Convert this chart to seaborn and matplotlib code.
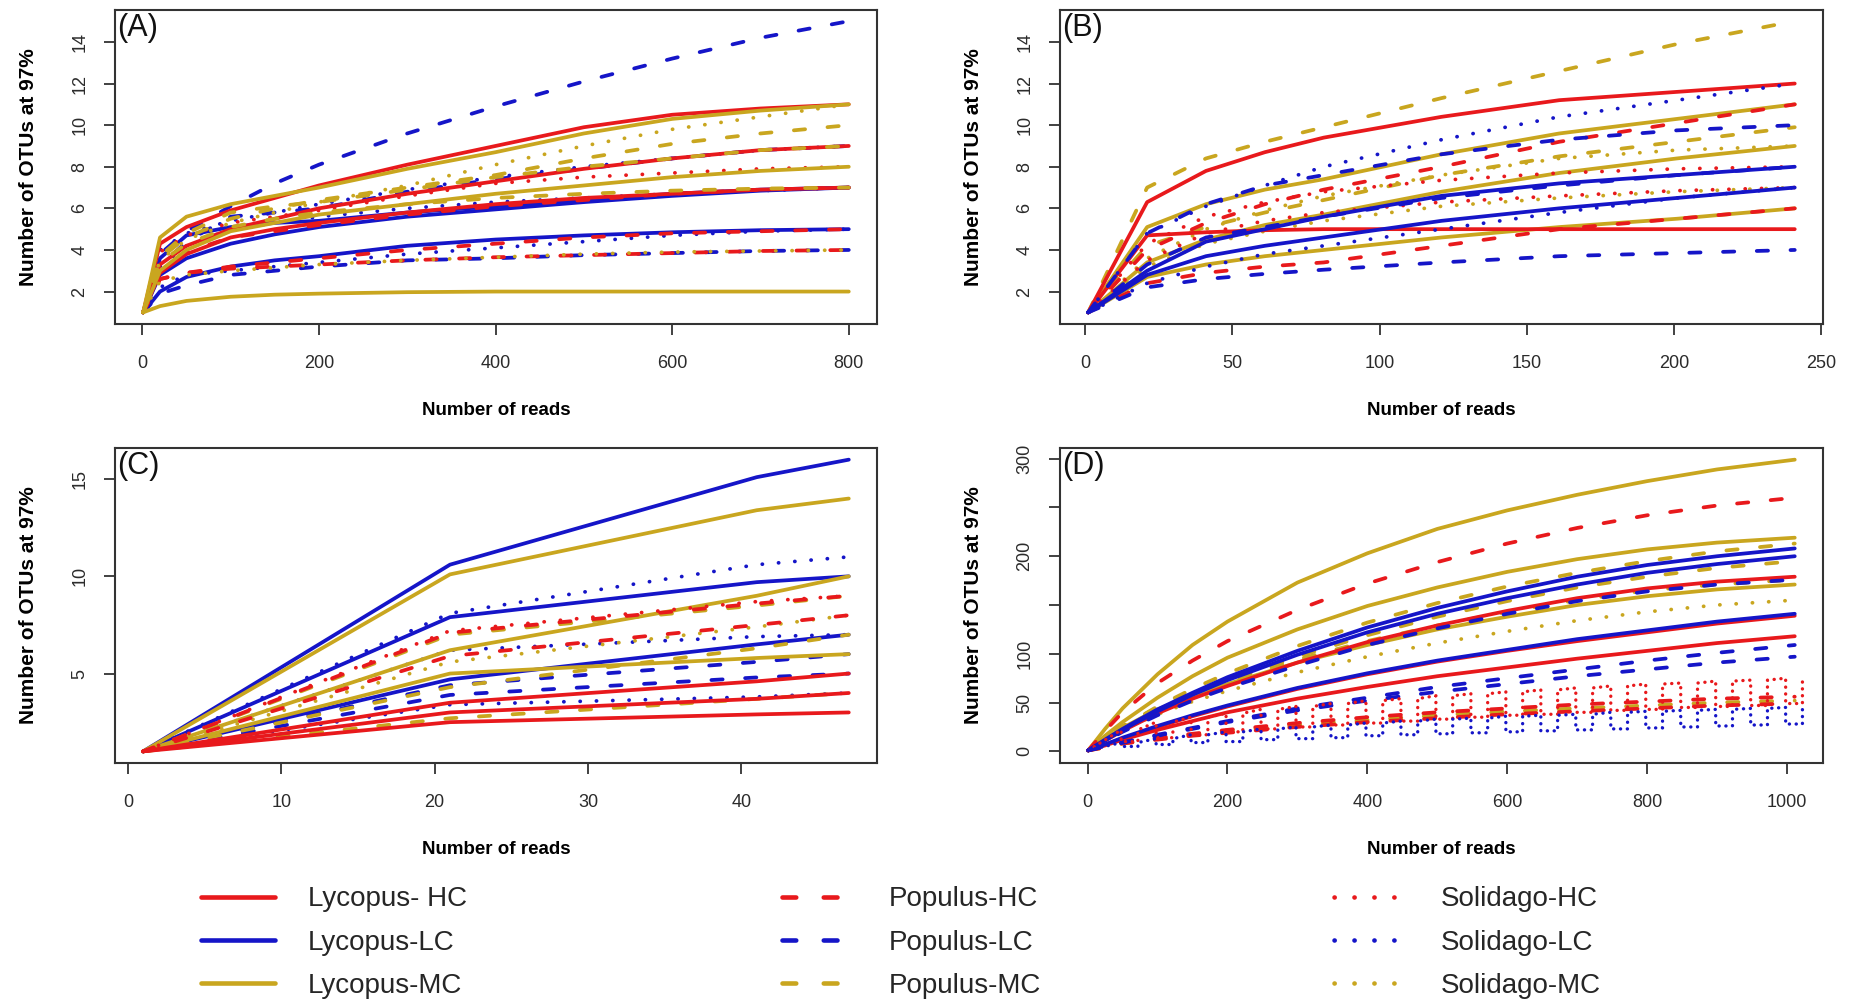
import matplotlib
matplotlib.use("Agg")
import matplotlib.pyplot as plt
from matplotlib.lines import Line2D
import numpy as np
import pandas as pd
import seaborn as sns

# ---------------------------------------------------------------- data
# Panel A: rarefaction curves, sampled at these read depths
A_READS = [1, 20, 50, 100, 150, 200, 300, 400, 500, 600, 700, 800]
A_SAMPLES = [
    "Populus-LC", "Lycopus-HC", "Lycopus-MC", "Solidago-MC", "Populus-MC",
    "Lycopus-HC", "Solidago-LC", "Populus-LC", "Populus-MC", "Solidago-HC",
    "Lycopus-MC", "Lycopus-LC", "Populus-HC", "Lycopus-LC", "Solidago-LC",
    "Populus-MC", "Lycopus-HC", "Lycopus-LC", "Populus-HC", "Solidago-LC",
    "Populus-LC", "Populus-HC", "Solidago-MC", "Lycopus-MC",
]
A_OTUS = [
    [1, 3.8, 4.9, 6.1, 7.2, 8.1, 9.6, 10.9, 12.1, 13.2, 14.2, 15],
    [1, 4.3, 5.1, 5.9, 6.5, 7.1, 8.1, 9.0, 9.9, 10.5, 10.8, 11],
    [1, 4.6, 5.6, 6.2, 6.6, 7.0, 7.9, 8.7, 9.6, 10.3, 10.7, 11],
    [1, 3.5, 4.5, 5.3, 5.8, 6.3, 7.1, 8.1, 9.0, 9.8, 10.4, 11],
    [1, 3.6, 4.6, 5.5, 6.0, 6.4, 7.0, 7.6, 8.4, 9.1, 9.6, 10],
    [1, 3.3, 4.2, 5.0, 5.5, 6.0, 6.7, 7.3, 7.9, 8.4, 8.8, 9],
    [1, 4.0, 4.8, 5.4, 5.8, 6.2, 6.9, 7.5, 8.0, 8.4, 8.8, 9],
    [1, 3.2, 4.4, 5.6, 5.8, 6.0, 6.8, 7.4, 7.9, 8.4, 8.8, 9],
    [1, 3.7, 4.8, 5.8, 6.1, 6.3, 6.9, 7.5, 8.0, 8.4, 8.8, 9],
    [1, 3.9, 4.7, 5.3, 5.6, 5.9, 6.6, 7.2, 7.5, 7.7, 7.9, 8],
    [1, 3.0, 4.0, 4.9, 5.3, 5.7, 6.2, 6.7, 7.1, 7.5, 7.8, 8],
    [1, 2.8, 3.6, 4.3, 4.75, 5.1, 5.6, 5.95, 6.3, 6.6, 6.85, 7],
    [1, 3.0, 3.9, 4.6, 4.9, 5.2, 5.7, 6.1, 6.4, 6.7, 6.9, 7],
    [1, 3.6, 4.7, 5.1, 5.3, 5.4, 5.8, 6.1, 6.4, 6.7, 6.9, 7],
    [1, 3.2, 4.2, 5.0, 5.3, 5.6, 6.0, 6.3, 6.5, 6.7, 6.85, 7],
    [1, 3.4, 4.3, 5.1, 5.5, 5.8, 6.2, 6.5, 6.7, 6.85, 6.95, 7],
    [1, 2.9, 3.8, 4.6, 5.0, 5.3, 5.8, 6.2, 6.5, 6.7, 6.9, 7],
    [1, 2.0, 2.7, 3.2, 3.5, 3.7, 4.2, 4.5, 4.7, 4.85, 4.95, 5],
    [1, 2.6, 2.9, 3.2, 3.4, 3.6, 4.0, 4.3, 4.6, 4.8, 4.9, 5],
    [1, 2.2, 2.8, 3.0, 3.2, 3.4, 3.8, 4.1, 4.4, 4.7, 4.9, 5],
    [1, 1.9, 2.3, 2.8, 3.0, 3.2, 3.5, 3.6, 3.75, 3.85, 3.95, 4],
    [1, 2.6, 2.9, 3.1, 3.2, 3.3, 3.5, 3.65, 3.75, 3.85, 3.95, 4],
    [1, 2.5, 2.8, 3.0, 3.15, 3.3, 3.5, 3.65, 3.8, 3.9, 3.95, 4],
    [1, 1.3, 1.55, 1.75, 1.85, 1.9, 1.97, 2, 2, 2, 2, 2],
]

# Panel B
B_READS = [1, 21, 41, 61, 81, 121, 161, 201, 241]
B_SAMPLES = [
    "Populus-MC", "Lycopus-HC", "Solidago-LC", "Lycopus-MC", "Populus-LC",
    "Populus-HC", "Populus-MC", "Solidago-HC", "Solidago-MC", "Solidago-MC",
    "Lycopus-MC", "Lycopus-LC", "Populus-LC", "Lycopus-LC", "Solidago-LC",
    "Solidago-HC", "Lycopus-MC", "Populus-HC", "Lycopus-HC", "Populus-LC",
]
B_OTUS = [
    [1, 7.0, 8.4, 9.2, 9.9, 11.3, 12.6, 13.9, 15],
    [1, 6.3, 7.8, 8.7, 9.4, 10.4, 11.2, 11.6, 12],
    [1, 4.8, 6.1, 7.1, 8.0, 9.3, 10.4, 11.2, 12],
    [1, 5.1, 6.2, 6.9, 7.4, 8.6, 9.6, 10.3, 11],
    [1, 4.8, 6.2, 7.1, 7.6, 8.6, 9.3, 9.75, 10],
    [1, 4.0, 5.3, 6.2, 6.9, 8.0, 9.2, 10.1, 11],
    [1, 4.2, 5.1, 5.8, 6.4, 7.6, 8.5, 9.2, 9.9],
    [1, 4.3, 5.6, 6.3, 6.8, 7.35, 7.7, 7.9, 8],
    [1, 3.6, 5.0, 5.9, 6.6, 7.6, 8.4, 8.8, 9],
    [1, 3.2, 4.3, 4.9, 5.4, 6.1, 6.5, 6.8, 7],
    [1, 3.4, 4.5, 5.2, 5.7, 6.8, 7.7, 8.4, 9],
    [1, 3.0, 4.4, 5.0, 5.6, 6.6, 7.2, 7.6, 8],
    [1, 3.3, 4.6, 5.1, 5.6, 6.5, 7.1, 7.6, 8],
    [1, 2.8, 3.7, 4.2, 4.6, 5.4, 6.0, 6.5, 7],
    [1, 2.4, 3.2, 3.8, 4.2, 5.0, 5.8, 6.5, 7],
    [1, 3.5, 4.8, 5.4, 5.8, 6.3, 6.6, 6.85, 7],
    [1, 2.7, 3.3, 3.7, 4.0, 4.6, 5.1, 5.5, 6],
    [1, 2.4, 2.9, 3.2, 3.4, 4.2, 5.0, 5.5, 6],
    [1, 4.7, 4.85, 4.95, 5.0, 5, 5, 5, 5],
    [1, 2.2, 2.6, 2.85, 3.05, 3.4, 3.7, 3.85, 4],
]

# Panel C
C_READS = [1, 21, 41, 47]
C_SAMPLES = [
    "Lycopus-LC", "Lycopus-MC", "Solidago-LC", "Lycopus-LC", "Lycopus-MC",
    "Populus-HC", "Solidago-HC", "Populus-MC", "Populus-HC", "Solidago-MC",
    "Solidago-LC", "Lycopus-LC", "Populus-MC", "Lycopus-MC", "Populus-LC",
    "Populus-LC", "Lycopus-HC", "Populus-MC", "Solidago-LC", "Lycopus-HC",
    "Lycopus-HC",
]
C_OTUS = [
    [1, 10.6, 15.1, 16],
    [1, 10.1, 13.4, 14],
    [1, 8.1, 10.6, 11],
    [1, 7.9, 9.7, 10],
    [1, 6.2, 9.0, 10],
    [1, 7.1, 8.6, 9],
    [1, 7.2, 8.7, 9],
    [1, 7.0, 8.5, 9],
    [1, 5.9, 7.5, 8],
    [1, 5.6, 7.4, 8],
    [1, 6.2, 6.9, 7],
    [1, 4.7, 6.5, 7],
    [1, 4.3, 6.3, 7],
    [1, 5.0, 5.8, 6],
    [1, 4.4, 5.6, 6],
    [1, 3.9, 4.8, 5],
    [1, 3.5, 4.6, 5],
    [1, 2.7, 3.7, 4],
    [1, 3.4, 3.8, 4],
    [1, 3.0, 3.7, 4],
    [1, 2.5, 2.9, 3],
]

# Panel D
D_READS = [1, 25, 50, 100, 150, 200, 300, 400, 500, 600, 700, 800, 900, 1011]
D_SAMPLES = [
    "Lycopus-MC", "Populus-HC", "Lycopus-MC", "Populus-MC", "Lycopus-LC",
    "Lycopus-LC", "Populus-MC", "Lycopus-HC", "Populus-LC", "Populus-MC",
    "Lycopus-MC", "Solidago-MC", "Lycopus-LC", "Lycopus-HC", "Lycopus-HC",
    "Populus-LC", "Populus-LC", "Populus-HC", "Populus-HC", "Populus-MC",
]
D_OTUS = [
    [1, 23, 44, 79, 109, 133, 173, 203, 228, 247, 263, 277, 289, 299],
    [1, 21, 40, 70, 93, 113, 145, 172, 194, 213, 229, 242, 252, 260],
    [1, 16, 30, 55, 77, 96, 125, 149, 168, 184, 197, 207, 214, 219],
    [1, 13, 25, 46, 64, 80, 108, 132, 152, 169, 183, 195, 205, 213],
    [1, 12, 23, 43, 60, 76, 103, 127, 147, 164, 179, 191, 200, 208],
    [1, 11, 22, 41, 58, 73, 99, 122, 141, 157, 171, 183, 192, 200],
    [1, 12, 23, 41, 57, 71, 97, 119, 138, 154, 168, 179, 188, 195],
    [1, 11, 21, 39, 54, 67, 91, 112, 129, 144, 157, 167, 174, 179],
    [1, 10, 20, 37, 52, 65, 88, 109, 126, 141, 154, 164, 171, 176],
    [1, 14, 26, 45, 60, 72, 94, 113, 129, 143, 155, 165, 171, 176],
    [1, 13, 24, 43, 57, 69, 91, 109, 125, 138, 150, 159, 166, 171],
    [1, 12, 22, 38, 51, 62, 81, 97, 111, 123, 134, 143, 150, 155],
    [1, 7, 14, 26, 37, 47, 65, 80, 93, 104, 115, 124, 133, 141],
    [1, 7, 13, 25, 36, 46, 64, 79, 92, 103, 113, 122, 131, 139],
    [1, 6, 12, 22, 31, 40, 54, 66, 77, 86, 95, 103, 111, 118],
    [1, 5, 9, 17, 24, 31, 44, 55, 66, 75, 84, 93, 101, 109],
    [1, 5, 9, 16, 23, 30, 42, 52, 61, 69, 77, 84, 91, 97],
    [1, 5, 9, 14, 18, 22, 29, 35, 40, 44, 48, 51, 54, 56],
    [1, 4, 8, 12, 16, 19, 25, 30, 34, 38, 41, 44, 47, 49],
    [1, 4, 8, 13, 17, 21, 27, 32, 37, 41, 44, 47, 50, 52],
]

# Panel D, Solidago samples: they swing between a low and a high value
# around each of these read depths
D_STEP_READS = [60, 110, 160, 210, 260, 310, 360, 410, 460, 510,
                560, 610, 660, 710, 760, 810, 860, 910, 960, 1010]
D_SOL_HC_LOW = [10, 14, 17, 20, 23, 25, 27, 29, 31, 33,
                35, 37, 38, 40, 42, 43, 45, 46, 47, 49]
D_SOL_HC_HIGH = [22, 30, 35, 39, 43, 46, 49, 52, 54, 57,
                 59, 61, 63, 65, 67, 69, 70, 72, 73, 75]
D_SOL_LC_LOW = [5, 7, 9, 10, 12, 13, 14, 16, 17, 18,
                19, 20, 21, 22, 23, 24, 25, 26, 27, 28]
D_SOL_LC_HIGH = [9, 13, 17, 20, 23, 25, 27, 29, 31, 33,
                 34, 36, 37, 38, 40, 41, 42, 43, 44, 45]

LEGEND_ROWS = [
    ["Lycopus- HC", "Lycopus-LC", "Lycopus-MC"],
    ["Populus-HC", "Populus-LC", "Populus-MC"],
    ["Solidago-HC", "Solidago-LC", "Solidago-MC"],
]

# ---------------------------------------------------------------- styling
LEVEL_COLORS = {"HC": "#E8191C", "LC": "#1515C8", "MC": "#C9A61F"}
PLANT_DASHES = {"Lycopus": "", "Populus": (3.0, 6.0), "Solidago": (0.05, 4.3)}
SWING_DASHES = {"Solidago": (0.05, 2.0)}
LW = 2.7

sns.set_theme(style="white")
plt.rcParams["font.family"] = ["Liberation Sans", "DejaVu Sans"]
plt.rcParams["lines.dash_capstyle"] = "round"
plt.rcParams["lines.solid_capstyle"] = "round"


def build_frame(reads, samples, otus):
    rows = []
    for k, (name, vals) in enumerate(zip(samples, otus)):
        plant, level = name.split("-")
        for x, y in zip(reads, vals):
            rows.append((k, plant, level, x, y))
    return pd.DataFrame(rows, columns=["curve", "plant", "level", "reads", "otus"])


def u_wave(centers, lo, hi, half=12):
    """Path dropping from the high to the low value on each side of a centre."""
    px, py = [1], [1]
    for c, a, b in zip(centers, lo, hi):
        px += [c - half, c - half, c + half, c + half]
        py += [b, a, a, b]
    return px, py


def style_axes(ax, xlim, ylim, xticks, yticks, yticklabels, tag):
    ax.set_xlim(*xlim)
    ax.set_ylim(*ylim)
    ax.set_xticks(xticks)
    ax.set_xticklabels([str(t) for t in xticks])
    ax.set_yticks(yticks)
    ax.set_yticklabels(yticklabels, rotation=90, va="center")
    ax.tick_params(axis="both", direction="out", length=8, width=1.3,
                   labelsize=13, colors="#333333", labelcolor="#2b2b2b",
                   bottom=True, left=True)
    ax.tick_params(axis="x", pad=14)
    ax.tick_params(axis="y", pad=11)
    for s in ax.spines.values():
        s.set_visible(True)
        s.set_color("#333333")
        s.set_linewidth(1.5)
    ax.set_xlabel("Number of reads", fontsize=13.5, fontweight="bold",
                  labelpad=22, color="black")
    ax.set_ylabel("Number of OTUs at 97%", fontsize=15, fontweight="bold",
                  labelpad=24.5, color="black")
    ax.text(0.003, 0.99, tag, transform=ax.transAxes, ha="left", va="top",
            fontsize=22, color="#111111")


def draw_curves(ax, df, dashes, lw):
    sns.lineplot(data=df, x="reads", y="otus", hue="level", style="plant",
                 units="curve", estimator=None, sort=False,
                 palette=LEVEL_COLORS, dashes=dashes,
                 linewidth=lw, legend=False, ax=ax)


W, H = 1859, 1005
fig = plt.figure(figsize=(W / 100, H / 100), dpi=100)


def frac(left, top, right, bottom):
    return [left / W, 1 - bottom / H, (right - left) / W, (bottom - top) / H]


ax_a = fig.add_axes(frac(115, 9.5, 877, 324))
ax_b = fig.add_axes(frac(1060, 9.5, 1823, 324))
ax_c = fig.add_axes(frac(115, 448, 877, 763))
ax_d = fig.add_axes(frac(1060, 448, 1823, 763))

draw_curves(ax_a, build_frame(A_READS, A_SAMPLES, A_OTUS), PLANT_DASHES, LW)
style_axes(ax_a, (-30.96, 831.96), (0.44, 15.56),
           [0, 200, 400, 600, 800], [2, 4, 6, 8, 10, 12, 14],
           ["2", "4", "6", "8", "10", "12", "14"], "(A)")

draw_curves(ax_b, build_frame(B_READS, B_SAMPLES, B_OTUS), PLANT_DASHES, LW)
style_axes(ax_b, (-8.6, 250.6), (0.44, 15.56),
           [0, 50, 100, 150, 200, 250], [2, 4, 6, 8, 10, 12, 14],
           ["2", "4", "6", "8", "10", "12", "14"], "(B)")

draw_curves(ax_c, build_frame(C_READS, C_SAMPLES, C_OTUS), PLANT_DASHES, LW)
style_axes(ax_c, (-0.84, 48.84), (0.4, 16.6),
           [0, 10, 20, 30, 40], [5, 10, 15], ["5", "10", "15"], "(C)")

draw_curves(ax_d, build_frame(D_READS, D_SAMPLES, D_OTUS), PLANT_DASHES, LW)
hc_x, hc_y = u_wave(D_STEP_READS, D_SOL_HC_LOW, D_SOL_HC_HIGH)
lc_x, lc_y = u_wave(D_STEP_READS, D_SOL_LC_LOW, D_SOL_LC_HIGH)
swing = pd.concat([
    pd.DataFrame({"curve": 0, "plant": "Solidago", "level": "HC",
                  "reads": hc_x, "otus": hc_y}),
    pd.DataFrame({"curve": 1, "plant": "Solidago", "level": "LC",
                  "reads": lc_x, "otus": lc_y}),
], ignore_index=True)
draw_curves(ax_d, swing, SWING_DASHES, 2.4)
style_axes(ax_d, (-39.4, 1051.4), (-11.96, 310.96),
           [0, 200, 400, 600, 800, 1000], [0, 50, 100, 150, 200, 250, 300],
           ["0", "50", "100", "", "200", "", "300"], "(D)")

# ---------------------------------------------------------------- legend
legend_x = [201 / W, 782 / W, 1334 / W]
for labels, x0 in zip(LEGEND_ROWS, legend_x):
    handles = []
    for lab in labels:
        plant, level = lab.replace(" ", "").split("-")
        dash = PLANT_DASHES[plant]
        h = Line2D([], [], color=LEVEL_COLORS[level], linewidth=LW + 0.6)
        if dash:
            h.set_dashes(dash)
        handles.append(h)
    fig.legend(handles, labels, loc="center left",
               bbox_to_anchor=(x0, 1 - 942.5 / H), frameon=False,
               fontsize=20, handlelength=2.65, handletextpad=1.2,
               labelspacing=0.62, borderpad=0, borderaxespad=0)

fig.savefig("out.png", dpi=100, facecolor="white")
